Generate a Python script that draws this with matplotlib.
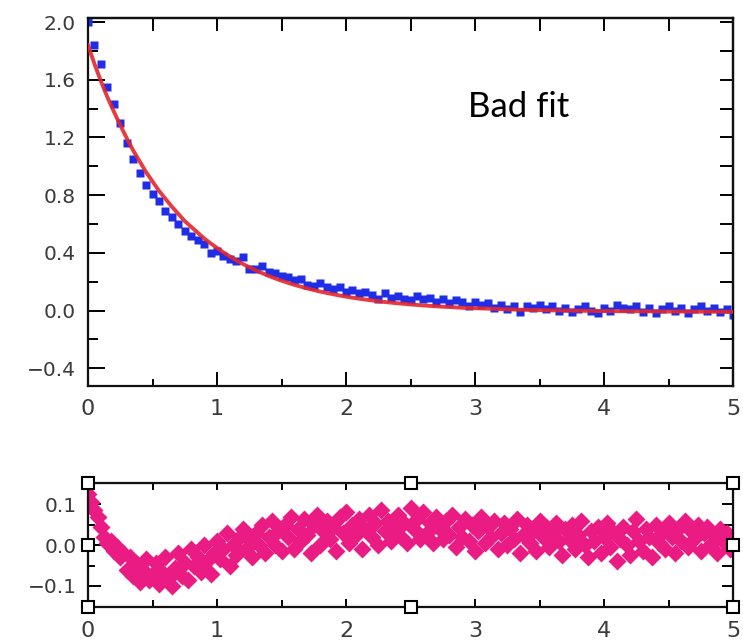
import matplotlib
matplotlib.use("Agg")
import matplotlib.pyplot as plt
import numpy as np

# ---------------- data ----------------
data_y = [2.00, 1.84, 1.71, 1.55, 1.43, 1.30, 1.16, 1.05, 0.95, 0.87,
          0.81, 0.76, 0.69, 0.65, 0.60, 0.55, 0.52, 0.49, 0.46, 0.40,
          0.41, 0.38, 0.36, 0.34, 0.37, 0.29, 0.29, 0.31, 0.27, 0.26,
          0.24, 0.23, 0.21, 0.22, 0.18, 0.17, 0.19, 0.16, 0.15, 0.16,
          0.13, 0.14, 0.12, 0.13, 0.11, 0.08, 0.12, 0.09, 0.10, 0.08,
          0.07, 0.10, 0.08, 0.09, 0.06, 0.08, 0.05, 0.07, 0.06, 0.03,
          0.06, 0.04, 0.05, 0.02, 0.04, 0.01, 0.03, -0.01, 0.03, 0.02,
          0.04, 0.01, 0.03, 0.00, 0.02, -0.01, 0.01, 0.03, 0.00, -0.02,
          0.02, 0.00, 0.04, 0.02, 0.01, 0.03, -0.01, 0.02, -0.02, 0.01,
          0.03, 0.00, 0.02, -0.02, 0.01, 0.03, 0.00, 0.02, -0.01, 0.01,
          -0.03]
data_x = np.linspace(0, 5, len(data_y))

fit_x = [0.00, 0.05, 0.10, 0.15, 0.20, 0.25, 0.30, 0.35, 0.40, 0.45,
         0.50, 0.55, 0.60, 0.65, 0.70, 0.75, 0.80, 0.85, 0.90, 0.95,
         1.00, 1.05, 1.10, 1.15, 1.20, 1.25, 1.30, 1.35, 1.40, 1.45,
         1.50, 1.55, 1.60, 1.65, 1.70, 1.75, 1.80, 1.85, 1.90, 1.95,
         2.00, 2.1, 2.2, 2.3, 2.4, 2.5, 2.6, 2.7, 2.8, 2.9,
         3.0, 3.25, 3.5, 3.75, 4.0, 4.5, 5.0]
fit_y = [1.84, 1.71, 1.59, 1.48, 1.38, 1.285, 1.195, 1.11, 1.035, 0.96,
         0.895, 0.83, 0.775, 0.72, 0.67, 0.62, 0.58, 0.54, 0.50, 0.466,
         0.434, 0.403, 0.374, 0.348, 0.323, 0.30, 0.279, 0.259, 0.24, 0.223,
         0.207, 0.192, 0.178, 0.165, 0.153, 0.142, 0.131, 0.122, 0.113, 0.104,
         0.096, 0.082, 0.070, 0.059, 0.050, 0.042, 0.035, 0.029, 0.024, 0.019,
         0.016, 0.008, 0.002, -0.001, -0.004, -0.007, -0.009]

resid_y = [0.125, 0.105, 0.085, 0.07, 0.045, 0.02, 0.005, 0.01, -0.015, -0.005,
           -0.03, -0.02, -0.06, -0.03, -0.075, -0.045, -0.09, -0.06, -0.035, -0.085,
           -0.07, -0.045, -0.095, -0.065, -0.03, -0.08, -0.1, -0.055, -0.02, -0.075,
           -0.045, -0.085, -0.01, -0.05, -0.03, -0.065, 0.0, -0.04, -0.07, -0.02,
           0.01, -0.035, -0.01, 0.03, -0.05, 0.0, -0.025, 0.02, 0.04, -0.01,
           0.015, -0.03, 0.03, 0.0, 0.05, -0.02, 0.02, 0.06, 0.0, 0.035,
           -0.015, 0.05, 0.02, 0.07, -0.01, 0.04, 0.01, 0.065, 0.025, -0.02,
           0.05, 0.075, 0.0, 0.035, 0.06, 0.015, 0.045, -0.015, 0.07, 0.03,
           0.08, 0.005, 0.05, 0.025, 0.065, -0.01, 0.04, 0.075, 0.02, 0.055,
           0.0, 0.085, 0.035, 0.06, 0.01, 0.045, 0.075, 0.02, 0.055, 0.005,
           0.09, 0.04, 0.065, 0.015, 0.08, 0.03, 0.055, 0.005, 0.07, 0.04,
           0.015, 0.06, 0.025, 0.075, -0.005, 0.045, 0.02, 0.065, 0.01, 0.05,
           -0.015, 0.035, 0.07, 0.005, 0.045, 0.02, 0.06, -0.01, 0.03, 0.055,
           0.0, 0.04, 0.015, 0.065, -0.02, 0.025, 0.05, 0.005, 0.035, -0.015,
           0.06, 0.02, 0.045, -0.005, 0.03, 0.055, 0.01, -0.025, 0.04, 0.015,
           0.05, -0.01, 0.025, 0.06, 0.0, -0.03, 0.035, 0.01, 0.045, -0.02,
           0.02, 0.055, -0.005, 0.03, -0.04, 0.015, 0.045, 0.0, -0.025, 0.035,
           0.065, 0.01, -0.015, 0.04, 0.02, -0.03, 0.05, 0.005, 0.03, -0.01,
           0.055, 0.02, -0.02, 0.04, 0.01, 0.06, -0.005, 0.035, 0.015, 0.05,
           -0.015, 0.03, 0.045, 0.0, 0.025, -0.02, 0.04, 0.01, 0.03, -0.01,
           0.0]
resid_x = np.linspace(0, 5, len(resid_y))

x_ticks = [0, 1, 2, 3, 4, 5]
x_tick_labels = ["0", "1", "2", "3", "4", "5"]
y1_ticks = [-0.4, 0.0, 0.4, 0.8, 1.2, 1.6, 2.0]
y1_tick_labels = ["\u22120.4", "0.0", "0.4", "0.8", "1.2", "1.6", "2.0"]
y2_ticks = [-0.1, 0.0, 0.1]
y2_tick_labels = ["\u22120.1", "0.0", "0.1"]
annotation = "Bad fit"

# ---------------- style ----------------
BLUE = "#1f2de6"
RED = "#e4262c"
PINK = "#ea1b82"
LABEL_COLOR = "#3a3a3a"
FONT = "DejaVu Sans"

W, H = 743, 642
fig = plt.figure(figsize=(W / 100, H / 100), dpi=100)
ax1 = fig.add_axes([88 / W, 1 - 385.5 / H, 645 / W, 367.5 / H])
ax2 = fig.add_axes([88 / W, 1 - 606.7 / H, 645 / W, 124 / H])

# top panel
ax1.plot(data_x, data_y, "s", color=BLUE, ms=5.8, mec="none", zorder=2)
ax1.plot(fit_x, fit_y, "-", color=RED, lw=2.8, alpha=0.9, zorder=3)
ax1.set_xlim(0, 5)
ax1.set_ylim(-0.52, 2.028)

# bottom panel
ax2.plot(resid_x, resid_y, "D", color=PINK, ms=9.2, mec="none", zorder=2)
ax2.set_xlim(0, 5)
ax2.set_ylim(-0.151, 0.153)

for ax in (ax1, ax2):
    for sp in ax.spines.values():
        sp.set_linewidth(1.6)
        sp.set_color("#111111")
    ax.set_xticks(x_ticks)
    ax.set_xticklabels(x_tick_labels, fontsize=16, family=FONT, color=LABEL_COLOR)

ax1.set_xticks(np.arange(0, 5.01, 0.5), minor=True)
ax1.set_yticks(y1_ticks)
ax1.set_yticklabels(y1_tick_labels, fontsize=14.5, family=FONT, color=LABEL_COLOR)
ax1.set_yticks(np.arange(-0.4, 2.01, 0.2), minor=True)
ax1.tick_params(axis="x", which="major", direction="in", length=10, width=1.4, pad=10)
ax1.tick_params(axis="x", which="minor", direction="in", length=5, width=1.4)
ax1.tick_params(axis="y", which="major", direction="in", length=12, width=1.4, pad=9)
ax1.tick_params(axis="y", which="minor", direction="in", length=7, width=1.4)

sec = ax1.secondary_xaxis("top")
sec.set_xticks(np.arange(0, 5.01, 0.5))
sec.tick_params(direction="in", length=9.5, width=1.4, labeltop=False)
sec.spines["top"].set_linewidth(1.6)
secy = ax1.secondary_yaxis("right")
secy.set_yticks(np.arange(-0.4, 2.01, 0.2))
secy.tick_params(direction="in", length=9.5, width=1.4, labelright=False)
secy.spines["right"].set_linewidth(1.6)

ax2.set_xticks(np.arange(0, 5.01, 0.5), minor=True)
ax2.set_yticks(y2_ticks)
ax2.set_yticklabels(y2_tick_labels, fontsize=14.5, family=FONT, color=LABEL_COLOR)
ax2.set_yticks([-0.05, 0.05], minor=True)
ax2.tick_params(axis="x", which="major", direction="in", length=6, width=1.4, pad=10)
ax2.tick_params(axis="x", which="minor", direction="in", length=5, width=1.4)
ax2.tick_params(axis="y", which="major", direction="in", length=9, width=1.4, pad=8)
ax2.tick_params(axis="y", which="minor", direction="in", length=5, width=1.4)
sec2 = ax2.secondary_xaxis("top")
sec2.set_xticks(np.arange(0, 5.01, 0.5))
sec2.tick_params(direction="in", length=5, width=1.4, labeltop=False)
sec2y = ax2.secondary_yaxis("right")
sec2y.set_yticks(np.arange(-0.1, 0.101, 0.05))
sec2y.tick_params(direction="in", length=8, width=1.4, labelright=False)

# selection handles around the residual panel
ax2.plot([0, 0.5, 1, 0, 1, 0, 0.5, 1], [0, 0, 0, 0.5, 0.5, 1, 1, 1], "s",
         transform=ax2.transAxes, clip_on=False, mfc="white", mec="black",
         ms=9, mew=1.5, zorder=10)

fig.text(519 / W, 1 - 107 / H, annotation, ha="center", va="center",
         fontsize=25, family="Lato", color="black")

fig.savefig("out.png", dpi=100, facecolor="white")
